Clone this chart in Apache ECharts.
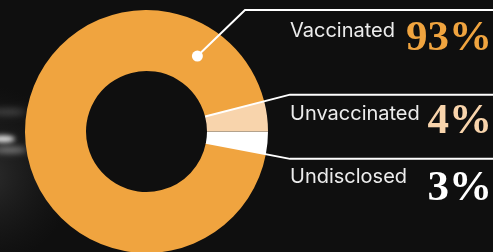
<!DOCTYPE html>
<html><head><meta charset="utf-8">
<script src="https://cdn.jsdelivr.net/npm/echarts@6/dist/echarts.min.js"></script>
<style>html,body{margin:0;padding:0;background:#0f0f0f;}#c{width:493px;height:252px;}</style>
</head><body><div id="c"></div>
<script>
const categories = ['Unvaccinated', 'Undisclosed', 'Vaccinated'];
const values = [4, 3, 93];
const sliceColors = ['#F8D4AC', '#FFFFFF', '#F0A43F'];
const numberColors = ['#F8D4AC', '#FFFFFF', '#F0A43F'];
// row order on the right: Vaccinated, Unvaccinated, Undisclosed
const rowOrder = ['Vaccinated', 'Unvaccinated', 'Undisclosed'];

const W = 493, H = 252;
const cx = 146.5, cy = 131.5, rIn = 60.5, rOut = 121.5;
const total = values.reduce((a, b) => a + b, 0);
const startAngle = values[0] / total * 360;

const chart = echarts.init(document.getElementById('c'), null, {renderer: 'canvas'});

function pt(angDeg, r) {
  const a = angDeg * Math.PI / 180;
  return [cx + r * Math.cos(a), cy - r * Math.sin(a)];
}
const aTop = startAngle;
const aBot = startAngle - (values[0] + values[1]) / total * 360;
const elbowX = 290;
function edgeAt(ang, x) {
  const a = ang * Math.PI / 180;
  return [x, cy - (x - cx) * Math.tan(a)];
}
const topIn = pt(aTop, rIn), topEl = edgeAt(aTop, elbowX);
const botIn = pt(aBot, rIn), botEl = edgeAt(aBot, elbowX);
const midIn = pt(0, rIn), midOut = pt(0, rOut);
const dot = pt(56, (rIn + rOut) / 2);

const rowLabelY = [30.5, 113.5, 177];
const rowNumY = [39, 122, 189];

// soft blurred streaks: shape drawn off-canvas, only its shadow lands on the canvas
const OFF = 1000;
function blurEllipse(x, y, rx, ry, color, blur) {
  return {type: 'ellipse', shape: {cx: x - OFF, cy: y, rx: rx, ry: ry}, z: -9, silent: true,
    style: {fill: '#000', shadowBlur: blur, shadowColor: color, shadowOffsetX: OFF}};
}

const graphics = [
  {type: 'circle', shape: {cx: -15, cy: 175, r: 90}, z: -10, silent: true,
   style: {fill: new echarts.graphic.RadialGradient(0.5, 0.5, 0.5, [
     {offset: 0, color: 'rgba(110,110,110,0.32)'}, {offset: 1, color: 'rgba(60,60,60,0)'}])}},
  blurEllipse(3, 139, 12, 3.5, 'rgba(235,235,235,0.95)', 5),
  blurEllipse(10, 150, 17, 3, 'rgba(170,170,170,0.7)', 6),
  blurEllipse(8, 112, 18, 3, 'rgba(110,110,110,0.6)', 7),
  {type: 'line', shape: {x1: midIn[0], y1: midIn[1], x2: midOut[0], y2: midOut[1]}, z: 10, silent: true,
   style: {stroke: '#b4a28c', lineWidth: 1}},
  {type: 'polyline', shape: {points: [dot, [245, 10], [W + 5, 10]]}, z: 10, silent: true,
   style: {stroke: '#ffffff', lineWidth: 2, fill: null}},
  {type: 'circle', shape: {cx: dot[0], cy: dot[1], r: 5.5}, z: 11, silent: true, style: {fill: '#ffffff'}},
  {type: 'polyline', shape: {points: [topIn, topEl, [W + 5, topEl[1]]]}, z: 10, silent: true,
   style: {stroke: '#ffffff', lineWidth: 2, fill: null}},
  {type: 'polyline', shape: {points: [botIn, botEl, [W + 5, botEl[1]]]}, z: 10, silent: true,
   style: {stroke: '#ffffff', lineWidth: 2, fill: null}}
];

rowOrder.forEach((name, i) => {
  const k = categories.indexOf(name);
  graphics.push({type: 'text', x: 290, y: rowLabelY[i], z: 10, silent: true,
    style: {text: name, fill: '#ececec', font: '20px Inter', textAlign: 'left', textVerticalAlign: 'middle'}});
  graphics.push({type: 'text', x: 492, y: rowNumY[i], z: 10, silent: true,
    style: {text: values[k] + '%', fill: numberColors[k], font: 'bold 43px "Liberation Serif"', textAlign: 'right', textVerticalAlign: 'middle'}});
});

chart.setOption({
  backgroundColor: '#0f0f0f',
  animation: false,
  series: [{
    type: 'pie',
    center: [cx, cy],
    radius: [rIn, rOut],
    startAngle: startAngle,
    clockwise: true,
    silent: true,
    label: {show: false},
    labelLine: {show: false},
    emphasis: {disabled: true},
    itemStyle: {borderWidth: 0},
    data: categories.map((c, i) => ({name: c, value: values[i], itemStyle: {color: sliceColors[i]}}))
  }],
  graphic: graphics
});
</script></body></html>
